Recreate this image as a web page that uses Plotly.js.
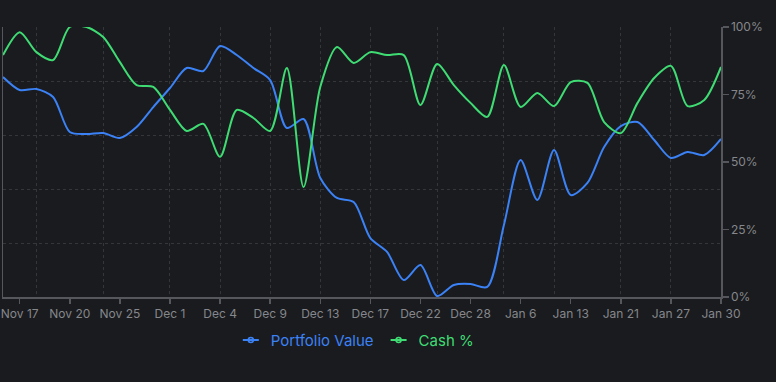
<!DOCTYPE html>
<html>
<head>
<meta charset="utf-8">
<script src="https://cdn.plot.ly/plotly-3.0.1.min.js"></script>
<style>
  html, body { margin: 0; padding: 0; background: #1a1b1e; }
  #chart { width: 776px; height: 382px; }
</style>
</head>
<body>
<div id="chart"></div>
<script>
// Category labels (one per data point)
const dates = [
  "Nov 14","Nov 17","Nov 18","Nov 19","Nov 20","Nov 21","Nov 24","Nov 25","Nov 26","Nov 28",
  "Dec 1","Dec 2","Dec 3","Dec 4","Dec 5","Dec 8","Dec 9","Dec 10","Dec 11","Dec 13",
  "Dec 14","Dec 15","Dec 17","Dec 18","Dec 19","Dec 22","Dec 23","Dec 26","Dec 28","Dec 30",
  "Jan 2","Jan 6","Jan 8","Jan 10","Jan 13","Jan 15","Jan 17","Jan 21","Jan 23","Jan 25",
  "Jan 27","Jan 28","Jan 29","Jan 30"
];

// Portfolio value (left axis)
const portfolioValue = [
  11037,10917,10926,10852,10528,10509,10518,10472,10574,10759,
  10935,11120,11093,11324,11241,11120,11009,10565,10648,10102,
  9917,9880,9546,9417,9157,9296,9009,9111,9120,9093,
  9667,10269,9898,10361,9944,10056,10389,10583,10620,10454,
  10287,10343,10315,10463
];

// Cash % (right axis)
const cashPct = [
  89.6,98.1,90.7,87.8,100,100,96.3,87.0,78.5,77.8,
  69.3,61.5,64.1,51.9,69.3,66.3,61.5,84.8,40.7,77.8,
  92.6,86.7,90.7,89.6,89.6,71.1,86.3,78.5,71.9,66.7,
  85.9,70.4,75.6,70.7,79.6,79.3,64.8,60.7,71.9,81.1,
  85.6,70.7,73.0,85.2
];

// Tick labels shown on the x axis
const xTickLabels = ["Nov 17","Nov 20","Nov 25","Dec 1","Dec 4","Dec 9","Dec 13","Dec 17",
  "Dec 22","Dec 28","Jan 6","Jan 13","Jan 21","Jan 27","Jan 30"];
// Category positions of the vertical grid lines
const gridIdx = [2,6,10,13,16,19,22,26,30,33,37,40];
const cashTicks = [0,25,50,75,100];

const BLUE = "#3b82f6";
const GREEN = "#3fdc74";
const AXIS = "#55575c";
const GRID = "#34363a";
const TICKTXT = "#85878c";
const LEGEND_DASH = "0px,7px,16px,40px";

const traces = [
  { x: dates, y: portfolioValue, type: "scatter", mode: "lines", xaxis: "x", yaxis: "y",
    line: { color: BLUE, width: 2, shape: "spline", smoothing: 0.8 },
    showlegend: false, hoverinfo: "skip" },
  { x: dates, y: cashPct, type: "scatter", mode: "lines", xaxis: "x", yaxis: "y2",
    line: { color: GREEN, width: 2, shape: "spline", smoothing: 0.8 },
    showlegend: false, hoverinfo: "skip" },
  // legend entries
  { x: [null], y: [null], type: "scatter", mode: "lines+markers", yaxis: "y",
    name: '<span style="color:' + BLUE + '">Portfolio Value</span>',
    line: { color: BLUE, width: 2, dash: LEGEND_DASH },
    marker: { symbol: "circle-open", size: 5, color: BLUE, line: { width: 1.6, color: BLUE } } },
  { x: [null], y: [null], type: "scatter", mode: "lines+markers", yaxis: "y2",
    name: '<span style="color:' + GREEN + '">Cash %</span>',
    line: { color: GREEN, width: 2, dash: LEGEND_DASH },
    marker: { symbol: "circle-open", size: 5, color: GREEN, line: { width: 1.6, color: GREEN } } },
  // carrier for the vertical grid axis
  { x: [null], y: [null], type: "scatter", mode: "lines", xaxis: "x2", yaxis: "y",
    showlegend: false, hoverinfo: "skip" }
];

const layout = {
  width: 776, height: 382,
  paper_bgcolor: "#1a1b1e", plot_bgcolor: "#1a1b1e",
  font: { family: "Inter, 'Noto Sans', sans-serif", color: TICKTXT, size: 12 },
  margin: { l: 3, r: 55, t: 27, b: 85, pad: 0 },
  showlegend: true,
  legend: { orientation: "h", x: 0.49, xanchor: "center", y: -0.16, yanchor: "middle",
    font: { size: 15 }, itemwidth: 30, tracegroupgap: 0 },
  xaxis: {
    type: "category", categoryorder: "array", categoryarray: dates,
    range: [0, dates.length - 1], tickmode: "array", tickvals: xTickLabels, ticktext: xTickLabels,
    showgrid: false, zeroline: false, showline: true, linecolor: AXIS, linewidth: 1.5,
    ticks: "outside", ticklen: 5, tickcolor: AXIS, tickwidth: 1.5,
    tickfont: { color: TICKTXT, size: 12 }, fixedrange: true
  },
  xaxis2: {
    type: "linear", overlaying: "x", anchor: "y", range: [0, dates.length - 1],
    tickmode: "array", tickvals: gridIdx, showticklabels: false, ticks: "",
    showgrid: true, gridcolor: GRID, griddash: "3px,3px", gridwidth: 1,
    zeroline: false, showline: false
  },
  yaxis: {
    range: [9000, 11500], dtick: 500, tick0: 9000,
    showgrid: true, gridcolor: GRID, griddash: "3px,3px", gridwidth: 1,
    zeroline: false, showline: true, linecolor: AXIS, linewidth: 1.5,
    showticklabels: false, ticks: "", fixedrange: true
  },
  yaxis2: {
    overlaying: "y", side: "right", anchor: "x", range: [0, 100],
    tickmode: "array", tickvals: cashTicks, ticktext: cashTicks.map(v => v + "%"),
    showgrid: false, zeroline: false, showline: true, linecolor: AXIS, linewidth: 1.5,
    ticks: "outside", ticklen: 6, tickcolor: AXIS, tickwidth: 1.5,
    tickfont: { color: TICKTXT, size: 12 }, fixedrange: true
  }
};

Plotly.newPlot("chart", traces, layout, { displayModeBar: false, staticPlot: true });
</script>
</body>
</html>
